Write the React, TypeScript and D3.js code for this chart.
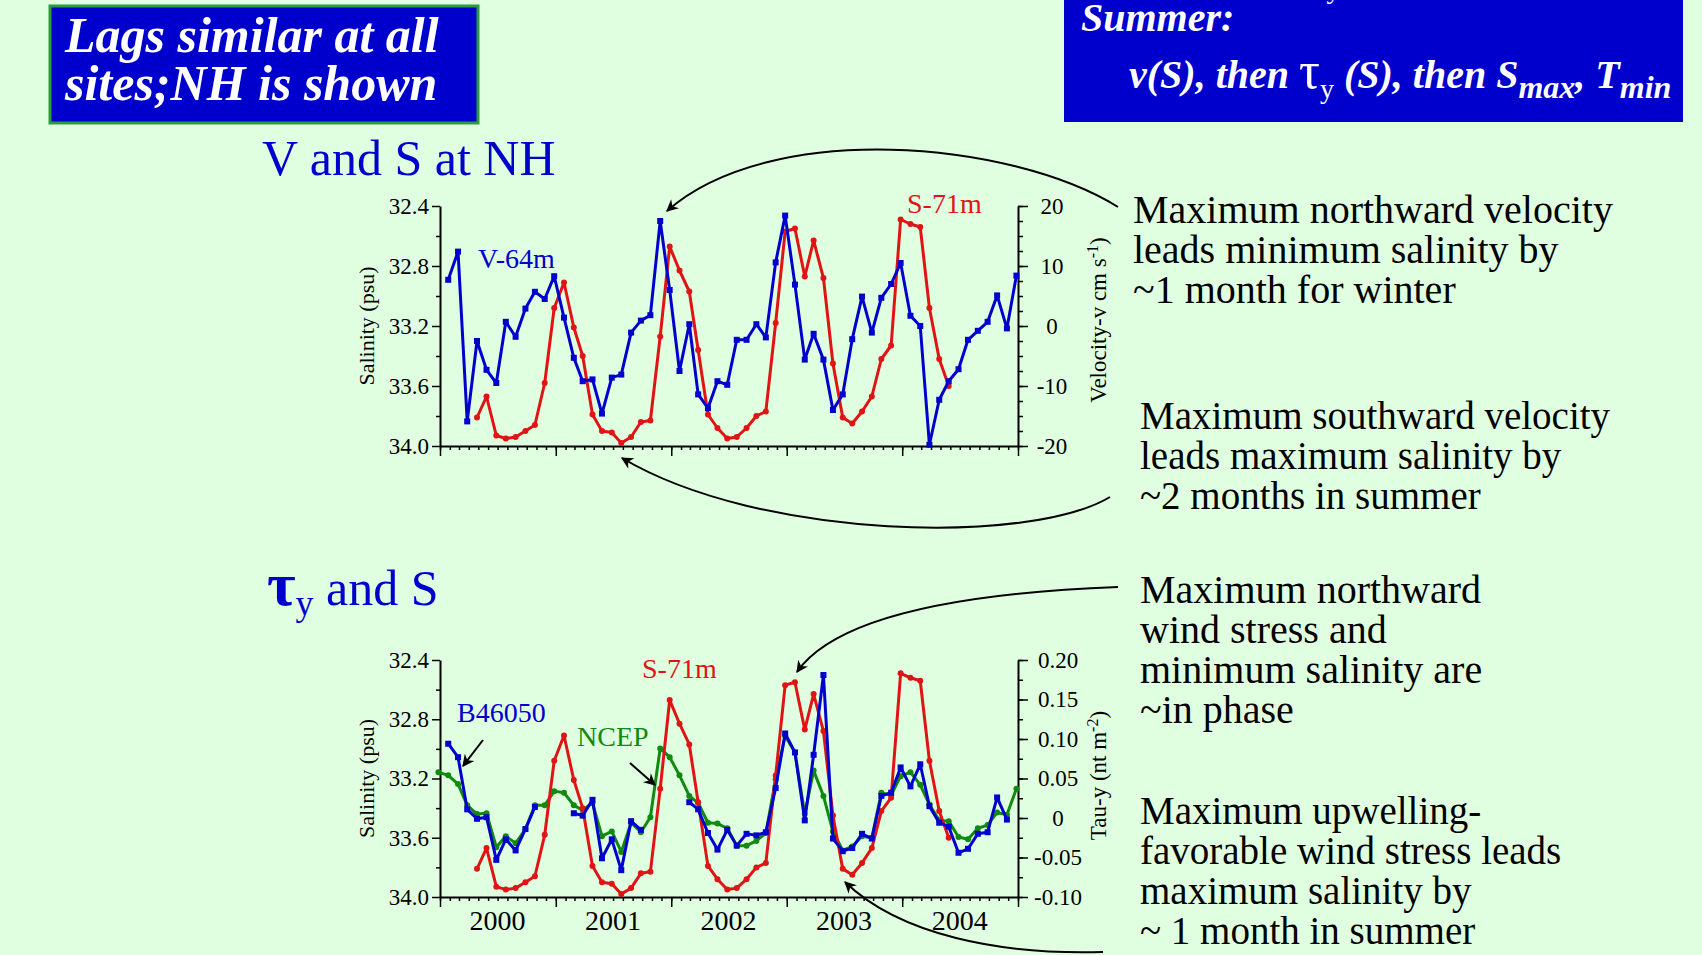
import React, { useEffect, useRef } from 'react'
import * as d3 from 'd3'

const FONT = "'Liberation Serif', 'Times New Roman', serif"
const BG = '#e0ffe0'
const BLUE = '#0000cc'
const RED = '#e01414'
const GREEN = '#108a10'

// month index: 0 = Jan 2000, monthly values
const salinityStartMonth = 3
const salinity71m = [
  33.81, 33.67, 33.93, 33.95, 33.94, 33.90, 33.86, 33.58, 33.08, 32.91,
  33.21, 33.40, 33.79, 33.90, 33.91, 33.98, 33.94, 33.84, 33.83, 33.27,
  32.67, 32.83, 32.97, 33.36, 33.79, 33.88, 33.95, 33.94, 33.88, 33.80,
  33.77, 33.18, 32.57, 32.55, 32.87, 32.63, 32.88, 33.45, 33.81, 33.85,
  33.77, 33.67, 33.42, 33.33, 32.49, 32.52, 32.54, 33.08, 33.42, 33.60,
]

const velocityStartMonth = 0
const velocity64m = [
  7.7, 12.4, -15.9, -2.5, -7.3, -9.5, 0.7, -1.8, 2.9, 5.7,
  4.5, 8.3, 1.4, -5.3, -9.2, -8.9, -14.6, -8.6, -8.1, -1.1,
  0.9, 1.8, 17.5, 6.0, -7.5, 0.3, -11.4, -13.7, -9.2, -9.8,
  -2.3, -2.3, 0.3, -1.9, 10.6, 18.4, 6.9, -5.6, -1.3, -5.6,
  -14.0, -11.4, -2.2, 4.9, -1.1, 4.7, 7.0, 10.5, 1.7, 0.0,
  -19.8, -12.3, -9.2, -7.2, -2.3, -0.8, 0.7, 5.1, -0.4, 8.4,
]

const buoyStartMonth = 0
const tauB46050 = [
  0.094, 0.077, 0.011, -0.001, 0.001, -0.053, -0.027, -0.041, -0.014, 0.014,
  null, null, null, 0.006, 0.003, 0.023, -0.051, -0.027, -0.066, -0.004,
  -0.015, null, null, null, null, 0.020, 0.011, -0.019, -0.040, -0.015,
  -0.035, -0.020, -0.022, -0.018, 0.038, 0.107, 0.083, -0.003, 0.080, 0.181,
  -0.026, -0.042, -0.038, -0.020, -0.026, 0.028, 0.032, 0.064, 0.040, 0.068,
  0.015, -0.006, -0.011, -0.044, -0.039, -0.020, -0.018, 0.026, -0.002,
]

const ncepStartMonth = -1
const tauNCEP = [
  0.058,
  0.054, 0.043, 0.016, 0.005, 0.006, -0.037, -0.023, -0.032, -0.014, 0.016,
  0.016, 0.034, 0.032, 0.016, 0.010, 0.019, -0.023, -0.017, -0.043, -0.006,
  -0.018, 0.001, 0.088, 0.077, 0.054, 0.028, 0.019, -0.006, -0.007, -0.013,
  -0.035, -0.035, -0.029, -0.019, 0.049, 0.104, 0.083, 0.005, 0.060, 0.028,
  -0.017, -0.041, -0.036, -0.023, -0.025, 0.032, 0.029, 0.053, 0.058, 0.042,
  0.017, -0.003, -0.004, -0.024, -0.027, -0.013, -0.009, 0.007, 0.004, 0.037,
]

const salinityTicks = [32.4, 32.8, 33.2, 33.6, 34.0]
const salinityMinorTicks = [32.6, 33.0, 33.4, 33.8]
const velocityTicks = [-20, -10, 0, 10, 20]
const tauTicks = [-0.1, -0.05, 0, 0.05, 0.1, 0.15, 0.2]
const yearLabels = ['2000', '2001', '2002', '2003', '2004']

const toSeries = (start: number, vals: (number | null)[]) =>
  vals.map((v, i) => ({ date: new Date(2000, start + i, 27), v }))

const LEFT = 440
const RIGHT = 1018

function drawPanel(svg: any, cfg: any) {
  const { top, bottom, rDomain, rTicks, rMinor, rFmt, rLabelX, showYears, series } = cfg
  const x = d3.scaleTime().domain([new Date(2000, 0, 1), new Date(2005, 0, 1)]).range([LEFT, RIGHT])
  const yS = d3.scaleLinear().domain([32.4, 34.0]).range([top, bottom])
  const yR = d3.scaleLinear().domain(rDomain).range([bottom, top])
  const g = svg.append('g')

  // x axis: month ticks + year ticks
  const ax = g.append('g').attr('transform', `translate(0,${bottom})`)
  ax.call(d3.axisBottom(x).ticks(d3.timeMonth.every(1)).tickSize(4).tickSizeOuter(0).tickFormat(() => ''))
  ax.append('g')
    .call(d3.axisBottom(x).ticks(d3.timeYear.every(1)).tickSize(10).tickSizeOuter(0).tickFormat(() => ''))
    .call((s: any) => s.select('.domain').remove())

  if (showYears) {
    g.selectAll('text.year').data(yearLabels).enter().append('text')
      .attr('x', (d: string) => x(new Date(+d, 6, 1)))
      .attr('y', bottom + 33)
      .attr('text-anchor', 'middle')
      .style('font-family', FONT).style('font-size', '28px')
      .text((d: string) => d)
  }

  // left salinity axis
  const al = g.append('g').attr('transform', `translate(${LEFT},0)`)
  al.call(d3.axisLeft(yS).tickValues(salinityTicks).tickSize(8).tickSizeOuter(0).tickFormat(d3.format('.1f')))
  al.append('g')
    .call(d3.axisLeft(yS).tickValues(salinityMinorTicks).tickSize(4).tickFormat(() => ''))
    .call((s: any) => s.select('.domain').remove())

  // right axis
  const ar = g.append('g').attr('transform', `translate(${RIGHT},0)`)
  ar.call(d3.axisRight(yR).tickValues(rTicks).tickSize(10).tickSizeOuter(0).tickFormat(rFmt))
  ar.selectAll('.tick text').attr('text-anchor', 'middle').attr('x', rLabelX)
  ar.append('g')
    .call(d3.axisRight(yR).tickValues(rMinor).tickSize(5).tickFormat(() => ''))
    .call((s: any) => s.select('.domain').remove())

  g.selectAll('.domain').attr('stroke-width', 2)
  g.selectAll('.tick line').attr('stroke-width', 1.5)
  g.selectAll('.tick text').style('font-family', FONT).style('font-size', '23px').attr('fill', '#000')

  // axis titles
  g.append('text')
    .attr('transform', `translate(374,${(top + bottom) / 2})rotate(-90)`)
    .attr('text-anchor', 'middle')
    .style('font-family', FONT).style('font-size', '22px')
    .text('Salinity (psu)')
  const rt = g.append('text')
    .attr('transform', `translate(1106,${(top + bottom) / 2 + cfg.rTitleShift})rotate(-90)`)
    .attr('text-anchor', 'middle')
    .style('font-family', FONT).style('font-size', '23px')
  cfg.rTitle.forEach((p: any) => {
    const t = rt.append('tspan').text(p.t)
    if (p.sup) t.attr('dy', -8).style('font-size', '16px')
    if (p.back) t.attr('dy', 8)
  })

  // data
  series.forEach((s: any) => {
    const y = s.axis === 'left' ? yS : yR
    const pts = s.data.filter((d: any) => d.v != null)
    const line = d3.line<any>()
      .defined((d) => d.v != null)
      .x((d) => x(d.date))
      .y((d) => y(d.v))
    g.append('path').datum(s.data).attr('d', line)
      .attr('fill', 'none').attr('stroke', s.color).attr('stroke-width', 3).attr('stroke-linejoin', 'round')
    if (s.marker === 'square') {
      g.append('g').selectAll('rect').data(pts).enter().append('rect')
        .attr('x', (d: any) => x(d.date) - 3).attr('y', (d: any) => y(d.v) - 3)
        .attr('width', 6).attr('height', 6).attr('fill', s.color)
    } else {
      g.append('g').selectAll('circle').data(pts).enter().append('circle')
        .attr('cx', (d: any) => x(d.date)).attr('cy', (d: any) => y(d.v))
        .attr('r', 3).attr('fill', s.color)
    }
  })
}

export default function App() {
  const ref = useRef<SVGSVGElement>(null)

  useEffect(() => {
    const svg = d3.select(ref.current).select('g.charts')
    svg.selectAll('*').remove()
    const sal = toSeries(salinityStartMonth, salinity71m)
    drawPanel(svg, {
      top: 206, bottom: 446,
      rDomain: [-20, 20], rTicks: velocityTicks, rMinor: d3.range(-20, 20.01, 2.5),
      rFmt: (d: number) => String(d), rLabelX: 34, showYears: false,
      rTitle: [{ t: 'Velocity-v cm s' }, { t: '-1', sup: true }, { t: ')', back: true }],
      rTitleShift: -6,
      series: [
        { data: sal, axis: 'left', color: RED, marker: 'circle' },
        { data: toSeries(velocityStartMonth, velocity64m), axis: 'right', color: BLUE, marker: 'square' },
      ],
    })
    drawPanel(svg, {
      top: 660, bottom: 897,
      rDomain: [-0.1, 0.2], rTicks: tauTicks, rMinor: d3.range(-0.1, 0.2001, 0.025),
      rFmt: (d: number) => (Math.abs(d) < 1e-9 ? '0' : d3.format('.2f')(d).replace('\u2212', '-')),
      rLabelX: 40, showYears: true,
      rTitle: [{ t: 'Tau-y (nt m' }, { t: '-2', sup: true }, { t: ')', back: true }],
      rTitleShift: -3,
      series: [
        { data: toSeries(ncepStartMonth, tauNCEP), axis: 'right', color: GREEN, marker: 'circle' },
        { data: sal, axis: 'left', color: RED, marker: 'circle' },
        { data: toSeries(buoyStartMonth, tauB46050), axis: 'right', color: BLUE, marker: 'square' },
      ],
    })
  }, [])

  const lines = (xs: number, y0: number, size: number, arr: string[]) =>
    arr.map((t, i) => (
      <text key={i} x={xs} y={y0 + i * 40} style={{ fontFamily: FONT, fontSize: size, fill: '#000' }}>{t}</text>
    ))

  const boxText = { fontFamily: FONT, fontSize: 50, fontWeight: 'bold' as const, fontStyle: 'italic' as const }

  return (
    <div style={{ position: 'absolute', left: 0, top: 0, width: 1702, height: 955, overflow: 'hidden' }}>
      <svg ref={ref} width={1702} height={955} style={{ display: 'block', background: BG }}>
        <defs>
          <marker id="ah" viewBox="0 0 10 10" refX="9" refY="5" markerWidth="14" markerHeight="12"
            markerUnits="userSpaceOnUse" orient="auto">
            <path d="M0,0 L10,5 L0,10 L3,5 z" fill="#000" />
          </marker>
        </defs>
        <rect x={0} y={0} width={1702} height={955} fill={BG} />

        {/* top-left box */}
        <rect x={50} y={6} width={428} height={117} fill={BLUE} stroke="#2a9d3a" strokeWidth={3} />
        <text x={65} y={52} fill="#fff" style={boxText}>Lags similar at all</text>
        <text x={65} y={100} fill="#fff" style={boxText}>sites;NH is shown</text>

        {/* top-right box */}
        <rect x={1064} y={-5} width={619} height={127} fill={BLUE} />
        <g fill="#fff" style={{ fontFamily: FONT, fontWeight: 'bold', fontStyle: 'italic' }}>
          <text x={1129} y={-12} fontSize={40}>
            v(N), then <tspan fontStyle="normal" fontWeight="normal" fontSize={52}>τ</tspan>
            <tspan fontSize={28} fontWeight="normal" fontStyle="normal" dy={10}>y</tspan>
            <tspan dy={-10}> (N), then S</tspan><tspan fontSize={32} dy={10}>min</tspan>
            <tspan dy={-10}>, T</tspan><tspan fontSize={32} dy={10}>max</tspan>
          </text>
          <text x={1081} y={31} fontSize={40}>Summer:</text>
          <text x={1129} y={88} fontSize={40}>
            v(S), then <tspan fontStyle="normal" fontWeight="normal" fontSize={52}>τ</tspan>
            <tspan fontSize={28} fontWeight="normal" fontStyle="normal" dy={10}>y</tspan>
            <tspan dy={-10}> (S), then S</tspan><tspan fontSize={32} dy={10}>max</tspan>
            <tspan dy={-10}>, T</tspan><tspan fontSize={32} dy={10}>min</tspan>
          </text>
        </g>

        {/* panel titles */}
        <text x={262} y={175} fill={BLUE} style={{ fontFamily: FONT, fontSize: 50 }}>V and S at NH</text>
        <text x={267} y={605} fill={BLUE} style={{ fontFamily: FONT, fontSize: 50 }}>
          <tspan fontWeight="bold" fontSize={62}>τ</tspan>
          <tspan fontSize={36} dy={10}>y</tspan>
          <tspan dy={-10}> and S</tspan>
        </text>

        <g className="charts" />

        {/* series labels */}
        <text x={478} y={268} fill={BLUE} style={{ fontFamily: FONT, fontSize: 28 }}>V-64m</text>
        <text x={907} y={213} fill={RED} style={{ fontFamily: FONT, fontSize: 28 }}>S-71m</text>
        <text x={457} y={722} fill={BLUE} style={{ fontFamily: FONT, fontSize: 28 }}>B46050</text>
        <text x={577} y={746} fill={GREEN} style={{ fontFamily: FONT, fontSize: 28 }}>NCEP</text>
        <text x={642} y={678} fill={RED} style={{ fontFamily: FONT, fontSize: 28 }}>S-71m</text>

        {/* arrows */}
        <g fill="none" stroke="#000" strokeWidth={2}>
          <path d="M483,740 L463,766" markerEnd="url(#ah)" />
          <path d="M630,763 L655,785" markerEnd="url(#ah)" />
          <path d="M1118,207 C1010,140 770,120 667,211" markerEnd="url(#ah)" />
          <path d="M1110,497 C1030,545 760,540 622,458" markerEnd="url(#ah)" />
          <path d="M1118,587 C990,592 840,610 797,672" markerEnd="url(#ah)" />
          <path d="M1103,952 C1000,955 900,935 845,882" markerEnd="url(#ah)" />
        </g>

        {/* notes */}
        {lines(1133, 223, 40, ['Maximum northward velocity', 'leads minimum salinity by', '~1 month for winter'])}
        {lines(1140, 429, 39, ['Maximum southward velocity', 'leads maximum salinity by', '~2 months in summer'])}
        {lines(1140, 603, 40, ['Maximum northward', 'wind stress and', 'minimum salinity are', '~in phase'])}
        {lines(1140, 824, 39, ['Maximum upwelling-', 'favorable wind stress leads', 'maximum salinity by', '~ 1 month in summer'])}
      </svg>
    </div>
  )
}
